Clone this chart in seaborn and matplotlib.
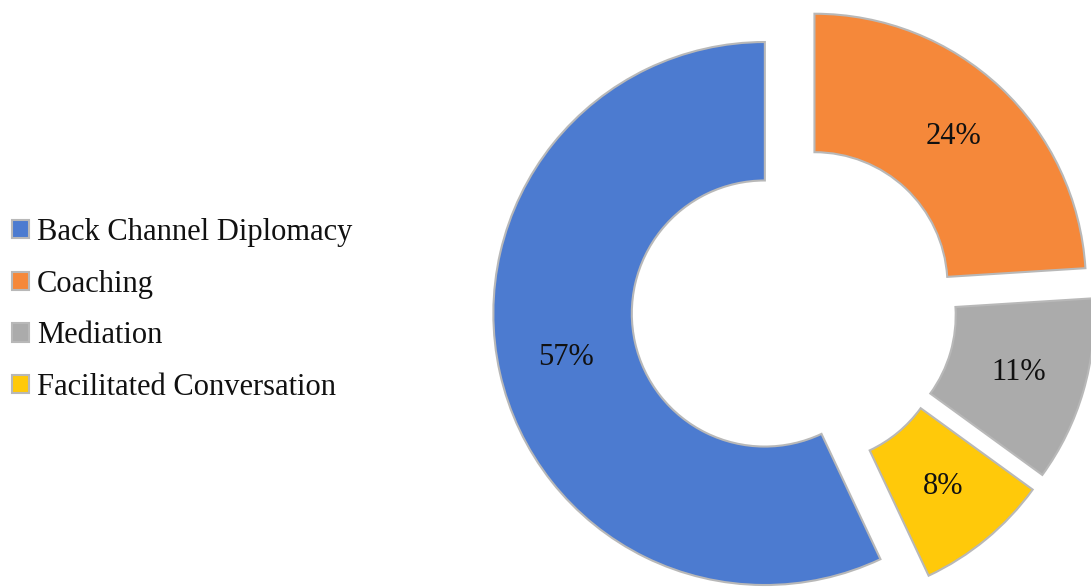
import numpy as np
import matplotlib
matplotlib.use("Agg")
import matplotlib.pyplot as plt
import seaborn as sns

categories = ["Back Channel Diplomacy", "Coaching", "Mediation", "Facilitated Conversation"]
values = [57, 24, 11, 8]
colors = ["#4C7BD0", "#F5883A", "#ABABAB", "#FFC90A"]

sns.set_theme(style="white")
plt.rcParams["font.family"] = ["Liberation Serif", "DejaVu Serif"]
plt.rcParams["text.color"] = "#111111"

W, H = 1091, 588
fig = plt.figure(figsize=(W / 100, H / 100), dpi=100)
ax = fig.add_axes([0, 0, 1, 1])

total = sum(values)
start = 90 - 360 * (1 - values[0] / total)
explode = [0.11] * len(values)

wedges, texts, autotexts = ax.pie(
    values,
    colors=colors,
    explode=explode,
    startangle=start,
    counterclock=False,
    radius=1.0,
    autopct=lambda p: f"{p:.0f}%",
    pctdistance=0.75,
    wedgeprops=dict(width=0.51, edgecolor="#B8B8B8", linewidth=1.5),
    textprops=dict(fontsize=22, color="#111111"),
)

R = 271.5
cx, cy = 794, H - 307
ax.set_aspect("auto")
ax.set_xlim(-cx / R, (W - cx) / R)
ax.set_ylim(-cy / R, (H - cy) / R)
ax.axis("off")

leg = fig.legend(
    wedges, categories,
    loc="center left", bbox_to_anchor=(0.003, 0.473),
    frameon=False, fontsize=22,
    handlelength=0.55, handleheight=0.55, handletextpad=0.26,
    labelspacing=0.74, borderaxespad=0.0, borderpad=0.3,
)

fig.savefig("out.png", dpi=100, facecolor="white")
